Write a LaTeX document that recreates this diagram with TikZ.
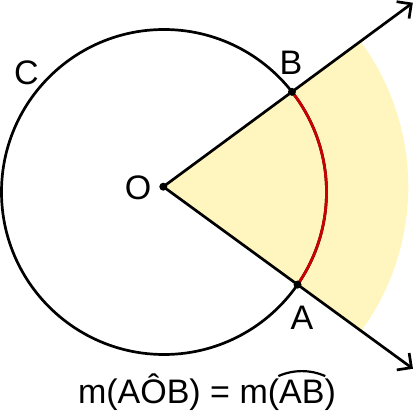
\documentclass[tikz,border=0pt]{standalone}
\usepackage{fontspec}
\setmainfont{Liberation Sans}
\usetikzlibrary{arrows.meta,calc}
\definecolor{sectorfill}{RGB}{255,246,191}
\definecolor{arcred}{RGB}{204,0,0}
\begin{document}
\begin{tikzpicture}[x=1pt,y=1pt,
  lab/.style={font=\fontsize{34}{40}\selectfont, inner sep=0pt, outer sep=0pt},
  ray/.style={line width=2.7pt, -{Straight Barb[length=10.5pt,width=21pt,line width=2.7pt]}},
  dotnode/.style={circle, fill=black, inner sep=0pt, minimum size=8pt}]
\useasboundingbox (0,0) rectangle (415,415);
\coordinate (C0) at (164,223);
\coordinate (O) at (163.3,228.3);
\coordinate (B) at ($(C0)+(38.05:162.5)$);
\coordinate (A) at ($(C0)+(-34.75:162.5)$);
\coordinate (tB) at ($(O)+(36.4:310)$);
\coordinate (tA) at ($(O)+(-36.1:309)$);
\fill[sectorfill] (O) -- ++(-36.1:245) arc[start angle=-36.1, end angle=36.4, radius=245] -- cycle;
\draw[line width=2.7pt] (C0) circle[radius=162.5];
\draw[arcred, line width=2.7pt] (A) arc[start angle=-34.75, end angle=38.05, radius=162.5];
\draw[ray] (O) -- (tB);
\draw[ray] (O) -- (tA);
\node[dotnode] (Od) at (O) {};
\node[dotnode] (Bd) at (B) {};
\node[dotnode] (Ad) at (A) {};
\node[lab] (Cl) at (26.5,342.5) {C};
\node[lab] (Ol) at (138,227.5) {O};
\node[lab] (Bl) at (291,352.5) {B};
\node[lab] (Al) at (302,96.7) {A};
\node[lab, anchor=base west] (e1) at (78,11) {m(AÔB) = m(};
\node[lab, anchor=base west] (e2) at (e1.base east) {AB};
\node[lab, anchor=base west] (e3) at (e2.base east) {)};
\draw[line width=2.2pt] ($(e2.north)+(-23.5,4.5)$) arc[start angle=114, end angle=66, radius=57.7];
\end{tikzpicture}
\end{document}
